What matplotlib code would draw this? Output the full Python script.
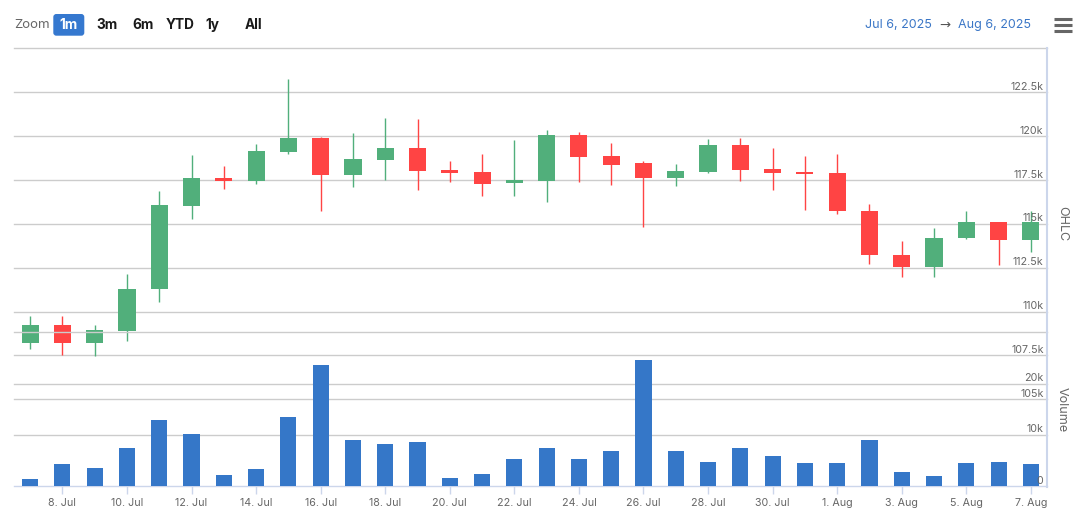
import numpy as np
import pandas as pd
import matplotlib
matplotlib.use('Agg')
import matplotlib.pyplot as plt
from matplotlib.patches import FancyBboxPatch
from matplotlib.lines import Line2D
from matplotlib.transforms import offset_copy, blended_transform_factory, IdentityTransform

# ---------------- data (prices and volume in thousands) ----------------
dates = pd.date_range('2025-07-07', '2025-08-07', freq='D')
open_ = [108.23, 109.24, 108.23, 108.91, 111.26, 116.01, 117.60, 117.44, 119.10, 119.89,
         117.79, 118.65, 119.31, 118.05, 117.94, 117.33, 117.44, 120.06, 118.85, 118.45,
         117.61, 117.96, 119.48, 118.11, 117.94, 117.88, 115.76, 113.24, 112.52, 114.18,
         115.08, 114.06]
high = [109.75, 109.75, 109.24, 112.16, 116.85, 118.91, 118.28, 119.54, 123.26, 119.98,
        120.17, 121.03, 120.97, 118.57, 118.97, 119.77, 120.34, 120.23, 119.60, 118.57,
        118.40, 119.83, 119.89, 119.31, 118.85, 118.97, 116.11, 114.05, 114.79, 115.76,
        115.13, 115.76]
low = [107.88, 107.52, 107.48, 108.34, 110.57, 115.27, 116.98, 117.27, 118.99, 115.73,
       117.10, 117.50, 116.93, 117.39, 116.58, 116.58, 116.24, 117.39, 117.21, 114.81,
       117.16, 117.90, 117.44, 116.93, 115.78, 115.55, 112.69, 112.00, 111.95, 114.15,
       112.63, 113.38]
close = [109.24, 108.23, 108.95, 111.30, 116.05, 117.60, 117.44, 119.14, 119.89, 117.79,
         118.68, 119.31, 118.02, 117.90, 117.27, 117.48, 120.06, 118.82, 118.36, 117.61,
         118.00, 119.48, 118.07, 117.90, 117.84, 115.73, 113.21, 112.52, 114.22, 115.08,
         114.06, 115.08]
volume = [1.38, 4.34, 3.55, 7.50, 12.83, 10.07, 2.17, 3.36, 13.42, 23.68,
          9.08, 8.29, 8.68, 1.58, 2.37, 5.33, 7.50, 5.33, 6.91, 24.67,
          6.91, 4.74, 7.50, 5.92, 4.54, 4.54, 9.08, 2.76, 1.97, 4.54,
          4.74, 4.34]

price_ticks = [105, 107.5, 110, 112.5, 115, 117.5, 120, 122.5, 125]
price_labels = ['105k', '107.5k', '110k', '112.5k', '115k', '117.5k', '120k', '122.5k', '']
vol_ticks = [0, 10, 20, 30]
vol_labels = ['0', '10k', '20k', '']
zoom_buttons = ['1m', '3m', '6m', 'YTD', '1y', 'All']
range_from = 'Jul 6, 2025'
range_to = 'Aug 6, 2025'

# ---------------- style ----------------
FONT = 'Inter'
plt.rcParams['font.family'] = [FONT, 'DejaVu Sans']
GREEN = '#51af7b'
RED = '#ff4444'
BLUE = '#3577c8'
GRID = '#cccccc'
AXIS = '#ccd6eb'
LABEL = '#666666'
LSIZE = 7.7

W, H = 1076, 515
fig = plt.figure(figsize=(W / 100, H / 100), dpi=100)

def fx(px):
    return px / W

def fy(py):
    return 1 - py / H

left, right = 14, 1047
price_top, price_bot = 48.5, 399.3
vol_top, vol_bot = 332.4, 486.0

ax_p = fig.add_axes([fx(left), fy(price_bot), fx(right - left), (price_bot - price_top) / H])
ax_v = fig.add_axes([fx(left), fy(vol_bot), fx(right - left), (vol_bot - vol_top) / H])

x = np.arange(len(dates))
for ax in (ax_p, ax_v):
    ax.set_xlim(-0.5, len(dates) - 0.5)
    ax.patch.set_alpha(0)
    for s in ax.spines.values():
        s.set_visible(False)
    ax.tick_params(left=False, right=False, labelleft=False, labelright=False)

ax_p.set_ylim(price_ticks[0], price_ticks[-1])
ax_v.set_ylim(vol_ticks[0], vol_ticks[-1])

# gridlines
for t in price_ticks:
    ax_p.axhline(t, color=GRID, lw=1.0, zorder=0, clip_on=False)
for t in vol_ticks[1:]:
    ax_v.axhline(t, color=GRID, lw=1.0, zorder=0, clip_on=False)

# candles
o = np.array(open_); c = np.array(close); hi = np.array(high); lo = np.array(low)
cols = [GREEN if cc >= oo else RED for oo, cc in zip(o, c)]
ax_p.vlines(x, lo, hi, colors=cols, lw=1.0, zorder=2)
body = np.maximum(np.abs(c - o), 0.03)
ax_p.bar(x, body, bottom=np.minimum(o, c), width=0.53, color=cols, lw=0, zorder=3)

# volume
ax_v.bar(x, volume, width=0.5, color=BLUE, lw=0, zorder=3)

# x axis
ax_p.tick_params(bottom=False, labelbottom=False)
ax_v.spines['bottom'].set_visible(True)
ax_v.spines['bottom'].set_color(AXIS)
ax_v.spines['bottom'].set_linewidth(1.0)
tick_idx = x[1::2]
ax_v.set_xticks(tick_idx)
ax_v.set_xticklabels([f"{d.day}. {d.strftime('%b')}" for d in dates[1::2]])
ax_v.tick_params(axis='x', direction='out', length=6, width=1, color=AXIS,
                 labelsize=LSIZE, labelcolor=LABEL, pad=2.5)
ax_v.set_yticks([])
ax_p.set_yticks([])

# y labels inside right
lx = (1043.5 - left) / (right - left)
tp = offset_copy(blended_transform_factory(ax_p.transAxes, ax_p.transData), fig=fig, x=0, y=2.5, units='dots')
for t, lab in zip(price_ticks, price_labels):
    if lab:
        ax_p.text(lx, t, lab, transform=tp, ha='right', va='baseline', fontsize=LSIZE, color=LABEL, zorder=5)
tv = offset_copy(blended_transform_factory(ax_v.transAxes, ax_v.transData), fig=fig, x=0, y=2.5, units='dots')
for t, lab in zip(vol_ticks, vol_labels):
    if lab:
        ax_v.text(lx, t, lab, transform=tv, ha='right', va='baseline', fontsize=LSIZE, color=LABEL, zorder=5)

# right axis line
fig.add_artist(Line2D([fx(1047), fx(1047)], [fy(48), fy(487)], color=AXIS, lw=1.5))

# axis titles
fig.text(fx(1062), fy((price_top + price_bot) / 2), 'OHLC', rotation=270, ha='center', va='center',
         fontsize=9, color=LABEL)
fig.text(fx(1062), fy((vol_top + vol_bot) / 2), 'Volume', rotation=270, ha='center', va='center',
         fontsize=9, color=LABEL)

# range selector
fig.text(fx(14), fy(25), 'Zoom', ha='left', va='center', fontsize=9.5, color=LABEL)
btn = FancyBboxPatch((53.3, H - 35.7), 31, 21.7, boxstyle='round,pad=0,rounding_size=3',
                     transform=IdentityTransform(), fc='#3578cf', ec='none')
fig.add_artist(btn)
btn_x = [68.8, 106.7, 143.5, 179.7, 212.5, 253]
for bx, lab in zip(btn_x, zoom_buttons):
    fig.text(fx(bx), fy(25), lab, ha='center', va='center', fontsize=9.8, fontweight='bold',
             color='white' if lab == '1m' else '#1a1a1a')

fig.text(fx(898), fy(25), range_from, ha='center', va='center', fontsize=9, color='#3a76c6')
fig.text(fx(944.5), fy(25), '\u2192', ha='center', va='center', fontsize=9.5, color='#555555',
         family='DejaVu Sans')
fig.text(fx(994.5), fy(25), range_to, ha='center', va='center', fontsize=9, color='#3a76c6')

for yy in (19.3, 25, 30.7):
    fig.add_artist(Line2D([fx(1054), fx(1072)], [fy(yy), fy(yy)], color='#666666', lw=2.2,
                          solid_capstyle='butt'))

fig.savefig('out.png', dpi=100)
